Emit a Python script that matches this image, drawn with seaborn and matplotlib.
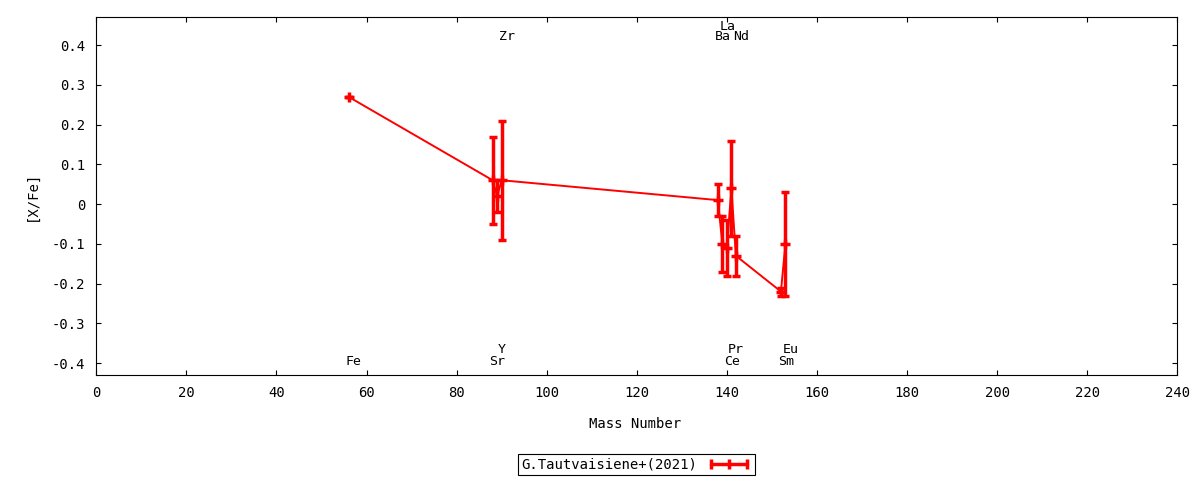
import numpy as np
import pandas as pd
import matplotlib
matplotlib.use("Agg")
import matplotlib.pyplot as plt
from matplotlib.lines import Line2D
from matplotlib.ticker import FuncFormatter
import seaborn as sns

# ---- data ----
elements = ['Fe', 'Sr', 'Y', 'Zr', 'Ba', 'La', 'Ce', 'Pr', 'Nd', 'Sm', 'Eu']
mass = [56, 88, 89, 90, 138, 139, 140, 141, 142, 152, 153]
xfe = [0.27, 0.06, 0.02, 0.06, 0.01, -0.10, -0.11, 0.04, -0.13, -0.22, -0.10]
xfe_err = [0.00, 0.11, 0.04, 0.15, 0.04, 0.07, 0.07, 0.12, 0.05, 0.01, 0.13]
series_label = 'G.Tautvaisiene+(2021)'
x_ticks = list(range(0, 241, 20))
y_ticks = [-0.4, -0.3, -0.2, -0.1, 0.0, 0.1, 0.2, 0.3, 0.4]

df = pd.DataFrame({'element': elements, 'mass': mass, 'xfe': xfe, 'err': xfe_err})

# ---- style ----
sns.set_theme(style='ticks', rc={
    'axes.edgecolor': 'black',
    'axes.linewidth': 0.8,
    'xtick.color': 'black',
    'ytick.color': 'black',
    'text.color': 'black',
    'axes.labelcolor': 'black',
})
plt.rcParams['font.family'] = ['DejaVu Sans Mono', 'DejaVu Sans']

fig = plt.figure(figsize=(12, 4.8), dpi=100)
ax = fig.add_axes([96.3 / 1200, 1 - 375 / 480, (1177.3 - 96.3) / 1200, (375 - 17.3) / 480])

red = '#ff0000'
sns.lineplot(data=df, x='mass', y='xfe', sort=False, estimator=None, color=red,
             linewidth=1.4, ax=ax, legend=False, zorder=2)
ax.errorbar(df['mass'], df['xfe'], yerr=df['err'], fmt='none', ecolor=red,
            elinewidth=2.5, capsize=3.2, capthick=2.5, zorder=3)
ax.plot(df['mass'], df['xfe'], linestyle='none', marker='+', markersize=6.5,
        markeredgewidth=2.5, color=red, zorder=4)

# element labels (layout rows)
label_rows = {
    'Zr': 0.421, 'Ba': 0.421, 'Nd': 0.421, 'La': 0.448,
    'Fe': -0.395, 'Sr': -0.395, 'Ce': -0.395, 'Sm': -0.395,
    'Y': -0.366, 'Pr': -0.366, 'Eu': -0.366,
}
for el, m in zip(df['element'], df['mass']):
    ax.annotate(el, xy=(m, label_rows[el]), xytext=(3.5, 0), textcoords='offset points',
                ha='center', va='center', fontsize=9.5)

ax.set_xlim(0, 240)
ax.set_ylim(-0.43, 0.47)
ax.set_xticks(x_ticks)
ax.set_yticks(y_ticks)
ax.yaxis.set_major_formatter(FuncFormatter(lambda v, p: f'{round(v, 1) + 0.0:g}'))
ax.tick_params(axis='both', direction='in', length=3.6, width=0.8, top=True, right=True,
               labelsize=10)
ax.tick_params(axis='x', pad=8)
ax.tick_params(axis='y', pad=8)
for s in ax.spines.values():
    s.set_visible(True)
    s.set_linewidth(0.8)

ax.set_xlabel('Mass Number', fontsize=10, va='center')
ax.xaxis.set_label_coords(0.498, -0.137)
ax.set_ylabel('[X/Fe]', fontsize=10, va='center')
ax.yaxis.set_label_coords(-0.0595, 0.5)

handle = Line2D([], [], color=red, linewidth=2.5, marker='|', markersize=7,
                markeredgewidth=2.5)
leg = ax.legend([handle], [series_label], loc='center', bbox_to_anchor=(0.4993, -0.2514),
                markerfirst=False, numpoints=3, handlelength=3.2, handletextpad=0.7,
                borderpad=0.25, borderaxespad=0, fancybox=False, framealpha=1,
                edgecolor='black', fontsize=10)
leg.get_frame().set_linewidth(0.8)

fig.savefig('out.png', dpi=100)
